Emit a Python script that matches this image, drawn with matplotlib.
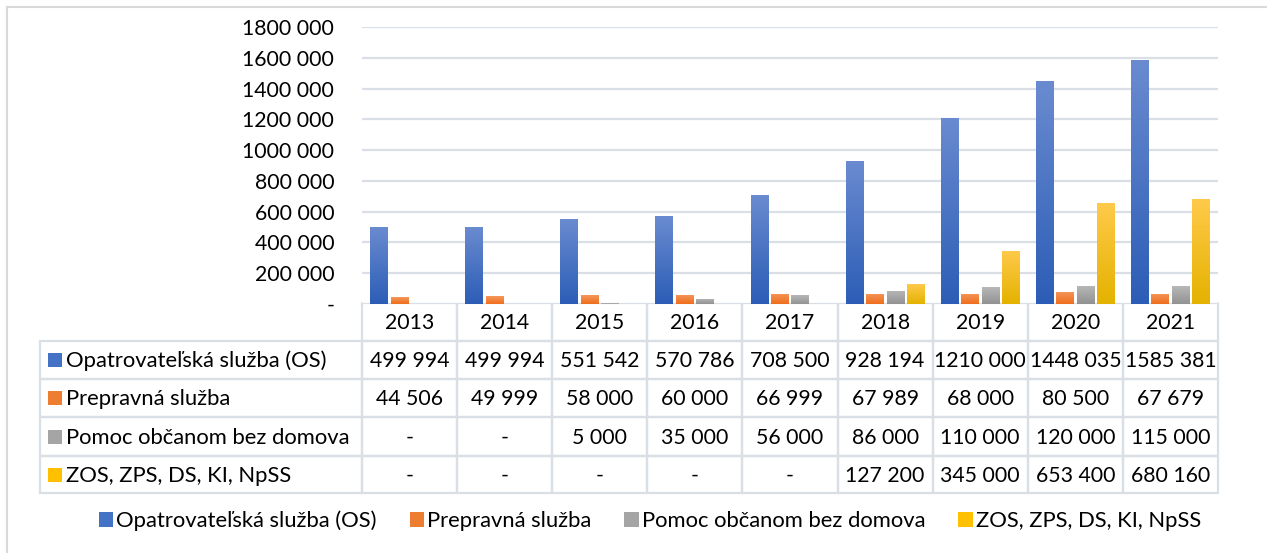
import numpy as np
import matplotlib.pyplot as plt
from matplotlib.colors import LinearSegmentedColormap
from matplotlib.patches import Rectangle, Patch

plt.rcParams['font.family'] = ['Lato', 'DejaVu Sans']

years = ['2013', '2014', '2015', '2016', '2017', '2018', '2019', '2020', '2021']
series_names = ['Opatrovateľská služba (OS)', 'Prepravná služba',
                'Pomoc občanom bez domova', 'ZOS, ZPS, DS, KI, NpSS']
os_values = [499994, 499994, 551542, 570786, 708500, 928194, 1210000, 1448035, 1585381]
preprava_values = [44506, 49999, 58000, 60000, 66999, 67989, 68000, 80500, 67679]
pomoc_values = [0, 0, 5000, 35000, 56000, 86000, 110000, 120000, 115000]
zos_values = [0, 0, 0, 0, 0, 127200, 345000, 653400, 680160]
series_values = [os_values, preprava_values, pomoc_values, zos_values]
y_ticks = [0, 200000, 400000, 600000, 800000, 1000000, 1200000, 1400000, 1600000, 1800000]

# (top, bottom) gradient colours per series
grad_colors = [('#6a8bd0', '#2c5db6'), ('#f5975c', '#ee6e1c'),
               ('#b8b8b8', '#929292'), ('#ffca4a', '#e4b200')]
solid_colors = ['#4472c4', '#ed7d31', '#a5a5a5', '#ffc000']
grid_color = '#dadfe6'
FS = 15.8
FS_NUM = 15.3


def fmt(v):
    if v == 0:
        return '-'
    if v < 1000:
        return str(v)
    return f"{v // 1000} {v % 1000:03d}"


W, H = 1267, 553
fig = plt.figure(figsize=(W / 100, H / 100), dpi=100)

# overlay axes in pixel coordinates for the frame and the data table
over = fig.add_axes([0, 0, 1, 1])
over.set_xlim(0, W)
over.set_ylim(H, 0)
over.axis('off')
over.plot([7, W], [7, 7], color='#d9d9d9', lw=1.5)
over.plot([7, 7], [7, H], color='#d9d9d9', lw=1.5)

# bar axes
x0, x1, ytop, ybot = 362, 1218, 27, 304
ax = fig.add_axes([x0 / W, 1 - ybot / H, (x1 - x0) / W, (ybot - ytop) / H])
ax.set_xlim(-0.5, len(years) - 0.5)
ax.set_ylim(0, 1800000)
for s in ax.spines.values():
    s.set_visible(False)
ax.set_xticks([])
ax.set_yticks(y_ticks)
ax.set_yticklabels([fmt(t) for t in y_ticks], fontsize=FS_NUM)
ax.tick_params(axis='y', length=0, pad=20)
ax.grid(axis='y', color=grid_color, lw=1.6)
ax.set_axisbelow(True)

x = np.arange(len(years))
bw, step = 0.184, 0.215
grad = np.linspace(0, 1, 256).reshape(-1, 1)
for k, vals in enumerate(series_values):
    offs = (k - 1.5) * step
    bars = ax.bar(x + offs, vals, width=bw, color=solid_colors[k], lw=0, zorder=2)
    cmap = LinearSegmentedColormap.from_list(f'g{k}', [grad_colors[k][1], grad_colors[k][0]])
    for b in bars:
        h = b.get_height()
        if h <= 0:
            continue
        bx = b.get_x()
        im = ax.imshow(grad, extent=[bx, bx + bw, 0, h], origin='lower',
                       aspect='auto', cmap=cmap, zorder=3)
        im.set_clip_path(b)
ax.set_xlim(-0.5, len(years) - 0.5)
ax.set_ylim(0, 1800000)

# data table
col_w = (x1 - x0) / len(years)
lab_x0 = 40
row_edges = [303, 341, 379, 417, 456, 493]
lw_t = 1.6
# header cells
for i, yr in enumerate(years):
    cx = x0 + i * col_w
    over.add_patch(Rectangle((cx, row_edges[0]), col_w, row_edges[1] - row_edges[0],
                             fill=False, ec=grid_color, lw=lw_t))
    over.text(cx + col_w / 2, (row_edges[0] + row_edges[1]) / 2 + 1, yr,
              ha='center', va='center', fontsize=FS_NUM)
# body cells
for r, (name, vals) in enumerate(zip(series_names, series_values)):
    ya, yb = row_edges[r + 1], row_edges[r + 2]
    yc = (ya + yb) / 2
    over.add_patch(Rectangle((lab_x0, ya), x0 - lab_x0, yb - ya,
                             fill=False, ec=grid_color, lw=lw_t))
    over.add_patch(Rectangle((48, yc - 7), 14, 14, color=solid_colors[r], lw=0))
    over.text(66, yc + 1, name, ha='left', va='center', fontsize=FS)
    for i, v in enumerate(vals):
        cx = x0 + i * col_w
        over.add_patch(Rectangle((cx, ya), col_w, yb - ya,
                                 fill=False, ec=grid_color, lw=lw_t))
        over.text(cx + col_w / 2, yc + 1, fmt(v), ha='center', va='center', fontsize=FS_NUM)

# legend
handles = [Patch(facecolor=c, edgecolor='none') for c in solid_colors]
fig.legend(handles, series_names, loc='center', bbox_to_anchor=(650 / W, 1 - 521 / H),
           ncol=4, frameon=False, fontsize=FS, handlelength=0.65, handleheight=0.65,
           handletextpad=0.15, columnspacing=1.5, borderaxespad=0)

fig.savefig('out.png', dpi=100)
